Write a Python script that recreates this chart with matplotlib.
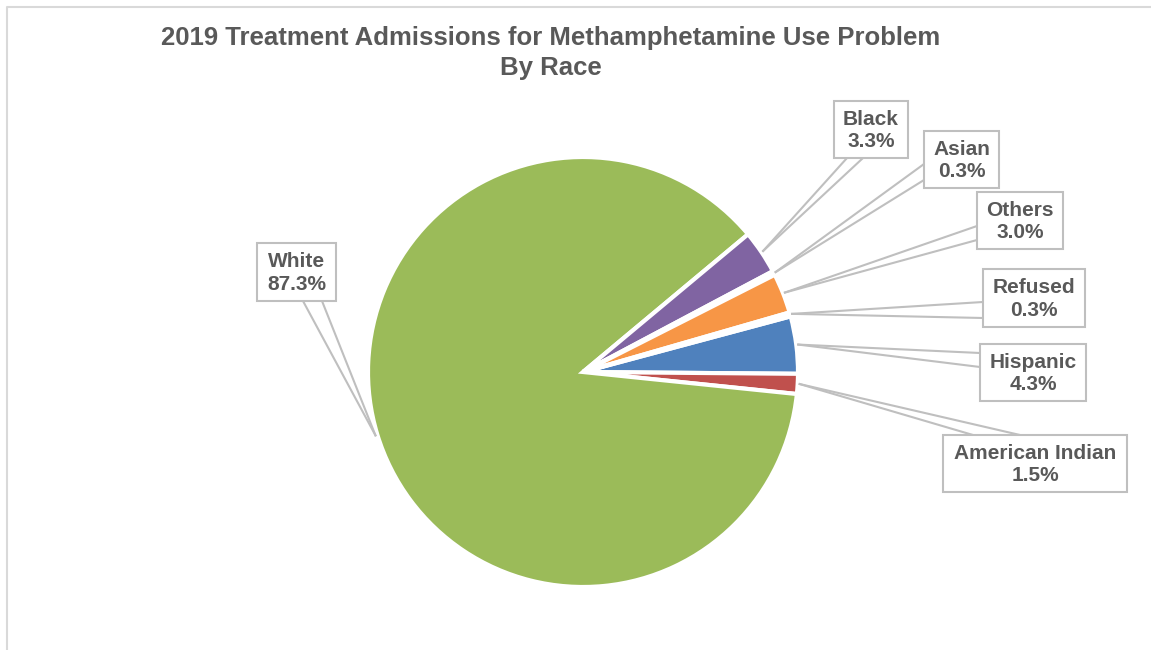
import numpy as np
import matplotlib.pyplot as plt
from matplotlib.patches import Rectangle

# ======================== Data =============================
categories = ['Hispanic', 'American Indian', 'White', 'Black', 'Asian', 'Others', 'Refused']
shares = [4.3, 1.5, 87.3, 3.3, 0.3, 3.0, 0.3]
colors = ['#4F81BD', '#C0504D', '#9BBB59', '#8064A2', '#4BACC6', '#F79646', '#2C4D75']

# ======================== Layout (pixels, top-left origin) =========
W, H = 1151, 650
# label boxes: x0, y0, x1, y1  and the two points where the callout leaves the box
boxes = {
    'White':           ((257, 243, 336, 301), [(303, 301), (322, 301)]),
    'Black':           ((834, 101, 908, 158), [(847, 158), (863, 158)]),
    'Asian':           ((924, 131, 999, 188), [(924, 164), (924, 180)]),
    'Others':          ((977, 192, 1063, 249), [(977, 226), (977, 240)]),
    'Refused':         ((983, 269, 1085, 327), [(983, 302), (983, 318)]),
    'Hispanic':        ((980, 344, 1086, 401), [(980, 353), (980, 367)]),
    'American Indian': ((943, 435, 1127, 492), [(973, 435), (1020, 435)]),
}
grey_txt = '#595959'
grey_line = '#BFBFBF'


def P(x, y):
    return x, H - y


fig = plt.figure(figsize=(W / 100, H / 100), dpi=100)
ax = fig.add_axes([0, 0, 1, 1])

# ======================== Pie =============================
cx, cy = P(583, 372)
R = 215
wedges, _ = ax.pie(shares, colors=colors, startangle=15, counterclock=False,
                   center=(cx, cy), radius=R,
                   wedgeprops=dict(edgecolor='white', linewidth=3))
ax.set_xlim(0, W)
ax.set_ylim(0, H)
ax.set_aspect('auto')
ax.axis('off')

# ======================== Callout labels =========================
for name, val, w in zip(categories, shares, wedges):
    (x0, y0, x1, y1), base = boxes[name]
    mid = np.deg2rad((w.theta1 + w.theta2) / 2)
    tx, ty = cx + (R + 2) * np.cos(mid), cy + (R + 2) * np.sin(mid)
    for bx, by in base:
        px, py = P(bx, by)
        ax.plot([tx, px], [ty, py], color=grey_line, lw=1.5, zorder=3)
    bl = P(x0, y1)
    ax.add_patch(Rectangle(bl, x1 - x0, y1 - y0, facecolor='white',
                           edgecolor=grey_line, lw=1.5, zorder=4))
    ax.text(*P((x0 + x1) / 2, (y0 + y1) / 2 + 1), f'{name}\n{val:.1f}%',
            ha='center', va='center', fontsize=15, fontweight='bold',
            family='Liberation Sans', color=grey_txt, linespacing=1.25, zorder=5)

# ======================== Title & frame =========================
ax.text(*P(551, 38), '2019 Treatment Admissions for Methamphetamine Use Problem',
        ha='center', va='center', fontsize=18.5, fontweight='bold',
        family='Liberation Sans', color=grey_txt)
ax.text(*P(551, 68), 'By Race', ha='center', va='center', fontsize=18.5,
        fontweight='bold', family='Liberation Sans', color=grey_txt)

ax.plot(*zip(P(7, H), P(7, 7), P(W, 7)), color='#D9D9D9', lw=1.5)

fig.savefig('out.png', dpi=100)
